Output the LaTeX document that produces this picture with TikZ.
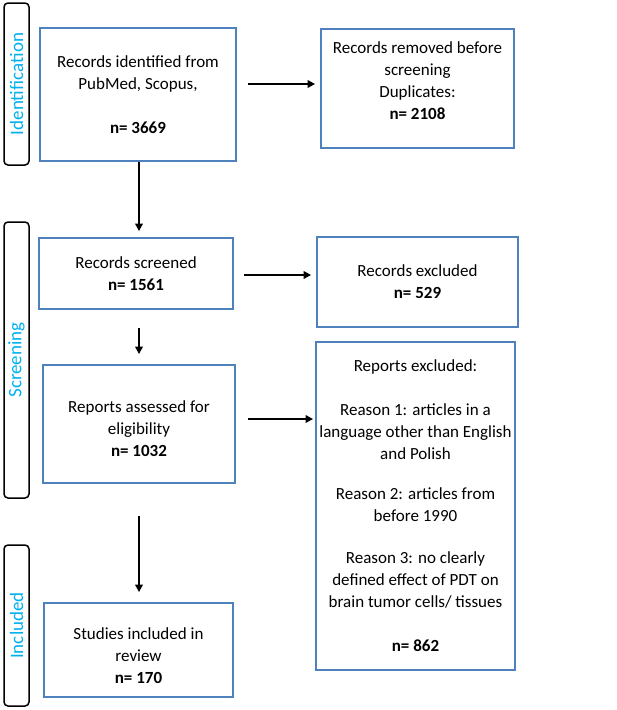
\documentclass[tikz,border=0pt]{standalone}
\usepackage{fontspec}
\setmainfont{Carlito}
\usetikzlibrary{arrows.meta,calc}
\definecolor{boxblue}{RGB}{79,129,189}
\definecolor{labcyan}{RGB}{0,176,240}
\tikzset{
  flowbox/.style={draw=boxblue, line width=1.8pt, align=center, inner sep=0pt,
    font=\fontsize{17}{22}\selectfont},
  phase/.style={draw=black, line width=1.5pt, rounded corners=4pt, minimum width=25pt,
    inner sep=0pt},
  phasetext/.style={text=labcyan, rotate=90, font=\fontsize{19}{20}\selectfont},
  arr/.style={line width=2pt, -{Triangle[length=7.5pt,width=7.5pt]}}
}
\begin{document}
\begin{tikzpicture}[x=1pt,y=1pt]
\useasboundingbox (0,0) rectangle (617,-710);
% phase labels
\node[phase, minimum height=162pt] (l1) at (16.5,-84) {};
\node[phasetext] (t1) at (l1.center) {Identification};
\node[phase, minimum height=276pt] (l2) at (16.5,-360) {};
\node[phasetext] (t2) at (l2.center) {Screening};
\node[phase, minimum height=161pt] (l3) at (16.5,-625.5) {};
\node[phasetext] (t3) at (l3.center) {Included};
% boxes
\node[flowbox, minimum width=196pt, minimum height=133pt] (b1) at (138,-94.5)
  {Records identified from\\PubMed, Scopus,\\[22pt]\textbf{n= 3669}};
\node[flowbox, minimum width=193pt, minimum height=119pt] (b2) at (417.5,-88.5)
  {Records removed before\\screening\\Duplicates:\\\textbf{n= 2108}\\[-6pt]\mbox{}};
\node[flowbox, minimum width=194pt, minimum height=71pt] (b3) at (136,-273.5)
  {Records screened\\\textbf{n= 1561}};
\node[flowbox, minimum width=201pt, minimum height=90pt] (b4) at (417.5,-282)
  {Records excluded\\\textbf{n= 529}};
\node[flowbox, minimum width=192pt, minimum height=118pt] (b5) at (139,-424)
  {\mbox{}\\Reports assessed for\\eligibility\\\textbf{n= 1032}};
\node[flowbox, minimum width=199pt, minimum height=328pt] (b6) at (415.5,-506)
  {Reports excluded:\\[22pt]Reason 1: articles in a\\language other than English\\and Polish\\[18pt]Reason 2: articles from\\before 1990\\[20pt]Reason 3: no clearly\\defined effect of PDT on\\brain tumor cells/ tissues\\[22pt]\textbf{n= 862}};
\node[flowbox, minimum width=189pt, minimum height=94pt] (b7) at (138.5,-650)
  {\mbox{}\\[1pt]Studies included in\\review\\\textbf{n= 170}};
% arrows
\draw[arr, shorten <=11pt, shorten >=5pt] ([yshift=10.5pt]b1.east) -- ([yshift=10.5pt]b1.east -| b2.west);
\draw[arr, shorten >=6pt] (b1.south -| 139,0) -- (b3.north -| 139,0);
\draw[arr, shorten <=10pt, shorten >=5pt] ([yshift=-1.5pt]b3.east) -- ([yshift=-1.5pt]b3.east -| b4.west);
\draw[arr, shorten <=18pt, shorten >=10pt] (b3.south -| 139,0) -- (b5.north -| 139,0);
\draw[arr, shorten <=12pt, shorten >=2pt] ([yshift=5pt]b5.east) -- ([yshift=5pt]b5.east -| b6.west);
\draw[arr, shorten <=32pt, shorten >=10pt] (b5.south -| 139,0) -- (b7.north -| 139,0);
\end{tikzpicture}
\end{document}
